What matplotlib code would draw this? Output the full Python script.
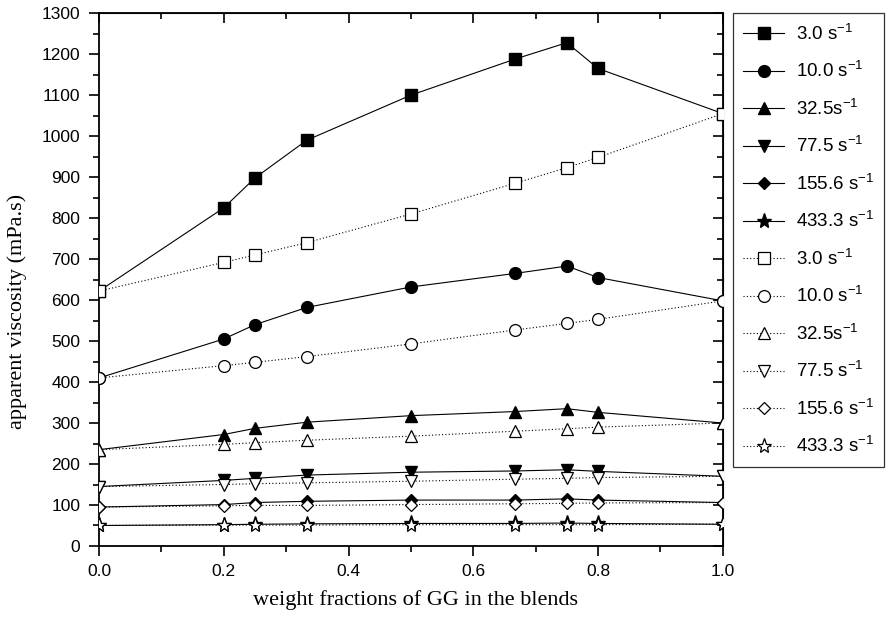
import matplotlib
matplotlib.use("Agg")
import matplotlib.pyplot as plt
from matplotlib.ticker import MultipleLocator

# ---------------------------------------------------------------
# data
# ---------------------------------------------------------------
gg_fraction = [0.0, 0.2, 0.25, 0.333, 0.5, 0.667, 0.75, 0.8, 1.0]

shear_labels = ["3.0 s$^{-1}$", "10.0 s$^{-1}$", "32.5s$^{-1}$",
                "77.5 s$^{-1}$", "155.6 s$^{-1}$", "433.3 s$^{-1}$"]

# measured blends (filled markers, solid lines)
measured_3_0 = [622, 825, 898, 990, 1100, 1188, 1228, 1165, 1055]
measured_10_0 = [410, 505, 540, 582, 632, 665, 683, 655, 598]
measured_32_5 = [235, 272, 287, 302, 318, 328, 335, 326, 300]
measured_77_5 = [145, 160, 165, 173, 180, 183, 186, 182, 170]
measured_155_6 = [95, 101, 106, 109, 112, 112, 115, 112, 106]
measured_433_3 = [50, 52, 53, 54, 55, 55, 56, 55, 53]

# additive (open markers, dotted lines)
additive_3_0 = [622, 692, 710, 740, 810, 885, 923, 948, 1055]
additive_10_0 = [410, 440, 448, 462, 493, 527, 543, 553, 598]
additive_32_5 = [235, 248, 252, 258, 268, 280, 286, 290, 300]
additive_77_5 = [145, 150, 152, 154, 158, 163, 165, 167, 170]
additive_155_6 = [95, 98, 99, 99, 101, 103, 104, 105, 106]
additive_433_3 = [50, 51, 51, 51, 52, 52, 52, 52, 53]

measured = [measured_3_0, measured_10_0, measured_32_5,
            measured_77_5, measured_155_6, measured_433_3]
additive = [additive_3_0, additive_10_0, additive_32_5,
            additive_77_5, additive_155_6, additive_433_3]
markers = ["s", "o", "^", "v", "D", "*"]
sizes = [8, 8.5, 9, 9, 6.5, 11]

plt.rcParams["font.family"] = "Liberation Sans"
plt.rcParams["mathtext.fontset"] = "custom"
plt.rcParams["mathtext.rm"] = "Liberation Sans"
plt.rcParams["mathtext.it"] = "Liberation Sans"

fig = plt.figure(figsize=(8.88, 6.21), dpi=100)
ax = fig.add_axes([0.1115, 0.1208, 0.7025, 0.858])

for ys, m, ms, lab in zip(measured, markers, sizes, shear_labels):
    ax.plot(gg_fraction, ys, color="black", lw=0.8, marker=m, ms=ms,
            mfc="black", mec="black", label=lab, zorder=2)

for ys, m, ms, lab in zip(additive, markers, sizes, shear_labels):
    ax.plot(gg_fraction, ys, color="black", lw=0.8, ls=(0, (1, 2)), marker=m,
            ms=ms, mfc="white", mec="black", mew=0.9, label=lab, zorder=3)

ax.set_xlim(0, 1.0)
ax.set_ylim(0, 1300)
ax.xaxis.set_major_locator(MultipleLocator(0.2))
ax.xaxis.set_minor_locator(MultipleLocator(0.1))
ax.yaxis.set_major_locator(MultipleLocator(100))
ax.yaxis.set_minor_locator(MultipleLocator(50))
ax.tick_params(which="major", direction="out", length=7, width=1.2, labelsize=12.5)
ax.tick_params(axis="y", which="major", pad=6.5)
ax.tick_params(axis="x", which="major", pad=6)
ax.tick_params(which="minor", direction="out", length=4, width=1.2)
ax.xaxis.set_major_formatter(plt.FuncFormatter(lambda v, p: f"{v:.1f}"))
for sp in ax.spines.values():
    sp.set_linewidth(1.3)

# mirrored ticks on top and right, pointing inward
top = ax.secondary_xaxis("top")
top.xaxis.set_major_locator(MultipleLocator(0.2))
top.xaxis.set_minor_locator(MultipleLocator(0.1))
top.tick_params(which="major", direction="in", length=7, width=1.2, labeltop=False)
top.tick_params(which="minor", direction="in", length=4, width=1.2)
right = ax.secondary_yaxis("right")
right.yaxis.set_major_locator(MultipleLocator(100))
right.yaxis.set_minor_locator(MultipleLocator(50))
right.tick_params(which="major", direction="in", length=7, width=1.2, labelright=False)
right.tick_params(which="minor", direction="in", length=4, width=1.2)

ax.set_xlabel("weight fractions of GG in the blends", family="Liberation Serif",
              fontsize=16, va="top")
ax.set_ylabel("apparent viscosity (mPa.s)", family="Liberation Serif",
              fontsize=16)
ax.xaxis.set_label_coords(0.508, -0.082)
ax.yaxis.set_label_coords(-0.115, 0.44)

leg = ax.legend(loc="upper left", bbox_to_anchor=(1.016, 1.0), fontsize=13.5,
                handlelength=2.2, labelspacing=0.93, borderpad=0.55,
                handletextpad=0.6, numpoints=1, frameon=True, fancybox=False,
                borderaxespad=0)
leg.get_frame().set_edgecolor("black")
leg.get_frame().set_linewidth(0.9)

plt.savefig("out.png", dpi=100)
